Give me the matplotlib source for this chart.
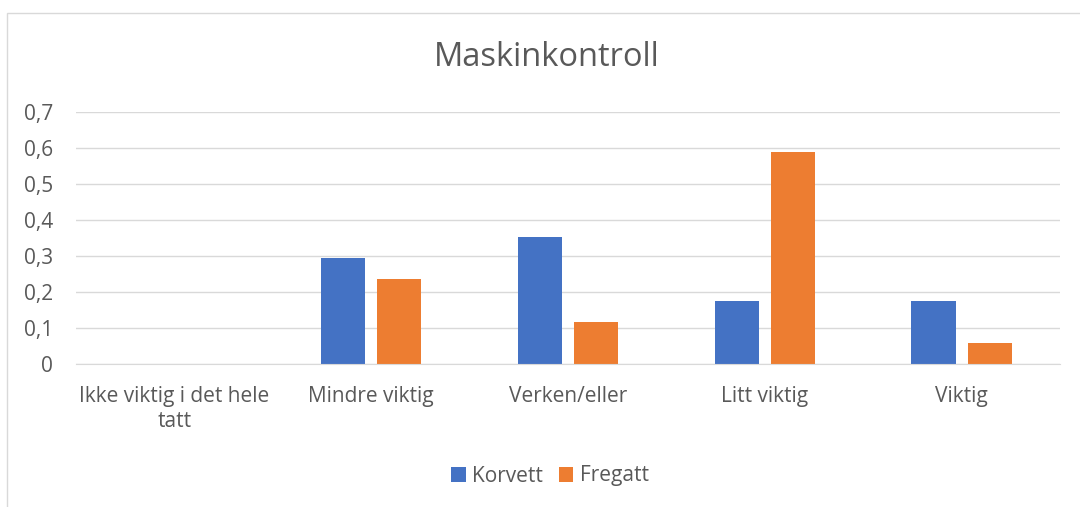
import numpy as np
import matplotlib.pyplot as plt
from matplotlib.patches import Rectangle

## Data
categories = ["Ikke viktig i det hele\ntatt", "Mindre viktig", "Verken/eller", "Litt viktig", "Viktig"]
korvett = [0, 0.294, 0.353, 0.176, 0.176]
fregatt = [0, 0.235, 0.118, 0.588, 0.059]
yticks = [0, 0.1, 0.2, 0.3, 0.4, 0.5, 0.6, 0.7]
ytick_labels = ["0", "0,1", "0,2", "0,3", "0,4", "0,5", "0,6", "0,7"]

## Style
plt.rcParams['font.family'] = ['Open Sans', 'DejaVu Sans']
text_col = '#595959'
blue = '#4472C4'
orange = '#ED7D31'

fig = plt.figure(figsize=(10.8, 5.07), dpi=100)
# outer chart border
fig.patches.append(Rectangle((7 / 1080, -0.01), 1.02, 1 - 13 / 507 + 0.01, transform=fig.transFigure,
                             fill=False, edgecolor='#d9d9d9', linewidth=1))

ax = fig.add_axes([76 / 1080, 1 - 364 / 507, 984 / 1080, 252 / 507])
x = np.arange(len(categories))
w = 0.225
ax.bar(x - 0.143, korvett, w, color=blue, label='Korvett')
ax.bar(x + 0.143, fregatt, w, color=orange, label='Fregatt')

ax.set_xlim(-0.5, len(categories) - 0.5)
ax.set_ylim(0, 0.7)
ax.set_yticks(yticks)
ax.set_yticklabels(ytick_labels)
ax.set_xticks(x)
ax.set_xticklabels(categories, linespacing=1.25)
ax.tick_params(axis='both', length=0, labelsize=15, colors=text_col)
ax.tick_params(axis='y', pad=16.5)
ax.tick_params(axis='x', pad=16)
for lab in ax.get_yticklabels():
    lab.set_horizontalalignment('right')
ax.grid(axis='y', color='#d9d9d9', linewidth=1)
ax.set_axisbelow(True)
for s in ['top', 'right', 'left']:
    ax.spines[s].set_visible(False)
ax.spines['bottom'].set_color('#d9d9d9')

fig.text(547 / 1080, 1 - 58 / 507, "Maskinkontroll", ha='center', va='center', fontsize=23.5, color=text_col)

leg = fig.legend(loc='center', bbox_to_anchor=(550 / 1080, 1 - 476 / 507), ncol=2, frameon=False,
                 fontsize=15, handlelength=0.7, handleheight=0.7, handletextpad=0.3, columnspacing=0.75)
for t in leg.get_texts():
    t.set_color(text_col)

plt.savefig("out.png", dpi=100)
